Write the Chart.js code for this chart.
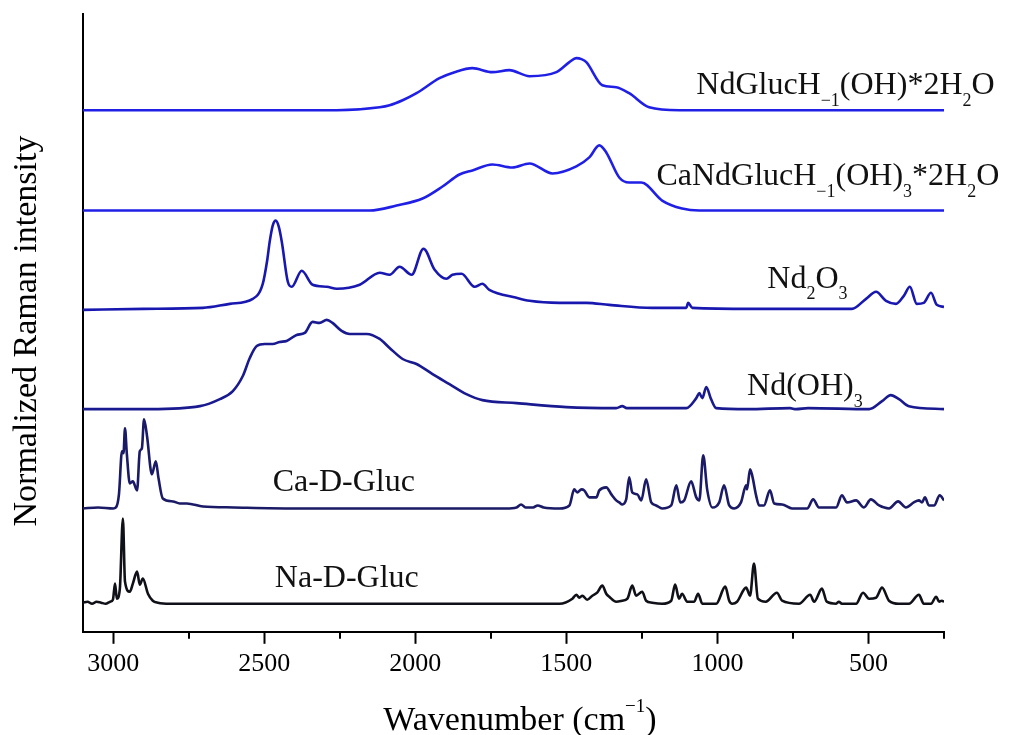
<!DOCTYPE html>
<html>
<head>
<meta charset="utf-8">
<script src="https://cdn.jsdelivr.net/npm/chart.js@4.4.1/dist/chart.umd.min.js"></script>
<style>
html, body { margin: 0; padding: 0; background: #fff; }
#wrap { width: 1010px; height: 735px; position: relative; }
</style>
</head>
<body>
<div id="wrap"><canvas id="chart"></canvas></div>
<script>
// x axis (wavenumber, cm-1), reversed
const xMin = 250;
const xMax = 3100;
const xTicks = [3000, 2500, 2000, 1500, 1000, 500];
const xMinorTicks = [2750, 2250, 1750, 1250, 750, 250];

// spectra, bottom to top: [wavenumber, normalized intensity above own baseline]
const naGluc = [
    [3100, 0.01], [3085, 0.02], [3070, 0.0], [3055, 0.02], [3040, 0.01], [3025, 0.0], [3010, 0.02],
    [3001, 0.04], [2994, 0.20], [2988, 0.05], [2978, 0.15], [2968, 0.85], [2961, 0.22], [2945, 0.12],
    [2935, 0.20], [2921, 0.32], [2912, 0.19], [2902, 0.25], [2885, 0.10], [2869, 0.03], [2852, 0.01],
    [2812, 0.0], [2700, 0.0], [2500, 0.0], [2300, 0.0], [2100, 0.0], [1900, 0.0], [1700, 0.0],
    [1523, 0.0], [1480, 0.05], [1467, 0.09], [1457, 0.06], [1447, 0.08], [1431, 0.04], [1414, 0.08],
    [1398, 0.11], [1381, 0.18], [1368, 0.10], [1358, 0.07], [1335, 0.02], [1315, 0.03], [1298, 0.05],
    [1282, 0.18], [1269, 0.08], [1249, 0.12], [1236, 0.03], [1216, 0.01], [1183, 0.0], [1153, 0.03],
    [1140, 0.19], [1127, 0.05], [1117, 0.10], [1100, 0.02], [1077, 0.02], [1064, 0.10], [1050, 0.0],
    [1004, 0.0], [974, 0.17], [961, 0.03], [951, 0.0], [935, 0.02], [905, 0.16], [892, 0.08],
    [879, 0.40], [866, 0.05], [840, 0.02], [803, 0.11], [786, 0.03], [730, 0.0], [693, 0.09],
    [680, 0.02], [654, 0.15], [638, 0.02], [607, 0.0], [598, 0.02], [588, 0.0], [541, 0.0],
    [518, 0.11], [498, 0.05], [475, 0.06], [455, 0.16], [432, 0.03], [399, 0.0], [366, 0.0],
    [333, 0.09], [317, 0.0], [293, 0.0], [276, 0.07], [266, 0.02], [257, 0.03], [250, 0.02]
];

const caGluc = [
    [3100, 0.0], [3050, 0.01], [3000, 0.0], [2991, 0.01], [2981, 0.14], [2971, 0.57], [2966, 0.55],
    [2961, 0.80], [2955, 0.55], [2945, 0.25], [2935, 0.27], [2921, 0.18], [2912, 0.57], [2905, 0.60],
    [2898, 0.89], [2888, 0.72], [2872, 0.34], [2859, 0.47], [2850, 0.30], [2836, 0.10], [2802, 0.07],
    [2780, 0.05], [2756, 0.05], [2703, 0.02], [2600, 0.01], [2400, 0.0], [2200, 0.0], [2000, 0.0],
    [1800, 0.0], [1700, 0.0], [1665, 0.01], [1650, 0.04], [1635, 0.01], [1610, 0.01], [1595, 0.03],
    [1575, 0.01], [1523, 0.0], [1490, 0.03], [1474, 0.19], [1464, 0.16], [1450, 0.19], [1441, 0.18],
    [1424, 0.11], [1401, 0.11], [1391, 0.18], [1368, 0.21], [1351, 0.14], [1335, 0.08], [1325, 0.06],
    [1315, 0.04], [1302, 0.09], [1292, 0.31], [1282, 0.16], [1265, 0.14], [1252, 0.08], [1236, 0.29],
    [1219, 0.06], [1203, 0.03], [1183, 0.0], [1153, 0.03], [1136, 0.23], [1123, 0.06], [1110, 0.08],
    [1087, 0.27], [1070, 0.11], [1060, 0.08], [1047, 0.53], [1034, 0.19], [1017, 0.01], [994, 0.06],
    [978, 0.23], [961, 0.03], [945, 0.0], [922, 0.06], [905, 0.23], [902, 0.19], [892, 0.39],
    [885, 0.33], [872, 0.13], [862, 0.03], [846, 0.03], [826, 0.18], [812, 0.05], [786, 0.04],
    [753, 0.0], [703, 0.0], [683, 0.09], [664, 0.01], [607, 0.01], [588, 0.13], [571, 0.06],
    [541, 0.08], [515, 0.01], [492, 0.09], [465, 0.03], [432, 0.0], [402, 0.07], [376, 0.01],
    [350, 0.06], [333, 0.08], [323, 0.06], [313, 0.11], [300, 0.03], [283, 0.03], [264, 0.13],
    [250, 0.08]
];

const ndOH = [
    [3100, 0.0], [2950, 0.0], [2878, 0.0], [2713, 0.03], [2647, 0.10], [2604, 0.18], [2571, 0.33],
    [2548, 0.51], [2525, 0.63], [2498, 0.65], [2472, 0.65], [2449, 0.67], [2426, 0.68], [2393, 0.74],
    [2366, 0.76], [2340, 0.87], [2317, 0.86], [2293, 0.89], [2274, 0.86], [2244, 0.78], [2217, 0.75],
    [2161, 0.75], [2118, 0.70], [2085, 0.61], [2042, 0.50], [1996, 0.45], [1943, 0.35], [1887, 0.25],
    [1831, 0.15], [1778, 0.09], [1665, 0.06], [1500, 0.02], [1335, 0.01], [1315, 0.03], [1300, 0.01],
    [1103, 0.01], [1070, 0.11], [1060, 0.16], [1050, 0.11], [1037, 0.22], [1021, 0.10], [1004, 0.01],
    [900, 0.0], [760, 0.01], [740, 0.0], [700, 0.01], [498, 0.0], [455, 0.08], [426, 0.14],
    [399, 0.10], [366, 0.03], [250, 0.0]
];

const nd2o3 = [
    [3100, 0.0], [2900, 0.01], [2703, 0.02], [2614, 0.06], [2538, 0.11], [2505, 0.26], [2490, 0.50],
    [2482, 0.68], [2472, 0.84], [2462, 0.89], [2452, 0.83], [2442, 0.68], [2422, 0.28], [2409, 0.23],
    [2376, 0.39], [2340, 0.25], [2293, 0.23], [2260, 0.21], [2184, 0.25], [2118, 0.37], [2085, 0.35],
    [2052, 0.43], [2012, 0.35], [1973, 0.61], [1936, 0.40], [1897, 0.31], [1877, 0.35], [1847, 0.36],
    [1804, 0.23], [1778, 0.26], [1755, 0.20], [1665, 0.12], [1622, 0.09], [1523, 0.07], [1434, 0.07],
    [1358, 0.05], [1216, 0.02], [1103, 0.02], [1097, 0.07], [1083, 0.02], [885, 0.01], [555, 0.01],
    [508, 0.11], [475, 0.18], [442, 0.09], [409, 0.06], [383, 0.14], [363, 0.23], [340, 0.06],
    [317, 0.07], [293, 0.17], [274, 0.05], [250, 0.03]
];

const caNdGluc = [
    [3100, 0.0], [2200, 0.0], [2151, 0.0], [2062, 0.05], [1976, 0.12], [1910, 0.24], [1854, 0.36],
    [1811, 0.40], [1745, 0.46], [1679, 0.43], [1622, 0.47], [1546, 0.37], [1467, 0.44], [1424, 0.53],
    [1391, 0.65], [1368, 0.58], [1325, 0.33], [1292, 0.28], [1252, 0.28], [1183, 0.10], [1117, 0.02],
    [1060, 0.0], [250, 0.0]
];

const ndGluc = [
    [3100, 0.0], [2260, 0.0], [2118, 0.03], [2085, 0.05], [2042, 0.10], [1996, 0.17], [1920, 0.32],
    [1870, 0.38], [1811, 0.42], [1745, 0.38], [1689, 0.40], [1622, 0.34], [1533, 0.38], [1490, 0.48],
    [1467, 0.52], [1450, 0.51], [1434, 0.48], [1381, 0.25], [1335, 0.23], [1292, 0.17], [1226, 0.03],
    [1126, 0.0], [250, 0.0]
];

const spectra = [naGluc, caGluc, ndOH, nd2o3, caNdGluc, ndGluc];
const spectrumNames = ['Na-D-Gluc', 'Ca-D-Gluc', 'Nd(OH)3', 'Nd2O3', 'CaNdGlucH-1(OH)3*2H2O', 'NdGlucH-1(OH)*2H2O'];
const spectrumOffsets = [0.28, 1.23, 2.22, 3.21, 4.20, 5.20];
const spectrumColors = ['#101018', '#1a1a66', '#191990', '#1818b0', '#1f1fe6', '#1f1fe6'];

// curve labels: pieces with optional sub/superscript, anchored in data units
const curveLabels = [
    { x: 2465, y: 0.45, parts: [['Na-D-Gluc']] },
    { x: 2472, y: 1.40, parts: [['Ca-D-Gluc']] },
    { x: 902, y: 2.36, parts: [['Nd(OH)'], ['3', 'sub']] },
    { x: 835, y: 3.43, parts: [['Nd'], ['2', 'sub'], ['O'], ['3', 'sub']] },
    { x: 1202, y: 4.45, parts: [['CaNdGlucH'], ['\u22121', 'sub'], ['(OH)'], ['3', 'sub'], ['*2H'], ['2', 'sub'], ['O']] },
    { x: 1070, y: 5.36, parts: [['NdGlucH'], ['\u22121', 'sub'], ['(OH)*2H'], ['2', 'sub'], ['O']] }
];

const serif = '"Liberation Serif", "Times New Roman", serif';

function drawParts(ctx, parts, x, y, size, align) {
    const sub = Math.round(size * 0.55);
    const widths = parts.map(([t, kind]) => {
        ctx.font = `${kind ? sub : size}px ${serif}`;
        return ctx.measureText(t).width;
    });
    const total = widths.reduce((a, b) => a + b, 0);
    let cx = align === 'center' ? x - total / 2 : x;
    parts.forEach(([t, kind], i) => {
        ctx.font = `${kind ? sub : size}px ${serif}`;
        let dy = 0;
        if (kind === 'sub') dy = size * 0.36;
        if (kind === 'sup') dy = -size * 0.52;
        ctx.fillText(t, cx, y + dy);
        cx += widths[i];
    });
}

const annotate = {
    id: 'annotate',
    afterDraw(chart) {
        const { ctx, chartArea, scales } = chart;
        const xs = scales.x;
        ctx.save();
        ctx.fillStyle = '#000';
        ctx.strokeStyle = '#000';
        ctx.textBaseline = 'alphabetic';
        ctx.textAlign = 'left';

        // minor ticks
        ctx.lineWidth = 2;
        xMinorTicks.forEach((v) => {
            const px = Math.round(xs.getPixelForValue(v));
            ctx.beginPath();
            ctx.moveTo(px, chartArea.bottom);
            ctx.lineTo(px, chartArea.bottom + 7);
            ctx.stroke();
        });

        // curve labels
        ctx.fillStyle = '#111';
        curveLabels.forEach((l) => {
            drawParts(ctx, l.parts, xs.getPixelForValue(l.x), scales.y.getPixelForValue(l.y), 32, 'left');
        });

        // axis titles
        ctx.fillStyle = '#000';
        drawParts(ctx, [['Wavenumber (cm'], ['\u22121', 'sup'], [')']], 520, 730, 34, 'center');
        ctx.translate(36, 331);
        ctx.rotate(-Math.PI / 2);
        drawParts(ctx, [['Normalized Raman intensity']], 0, 0, 34, 'center');
        ctx.restore();
    }
};

const datasets = spectra.map((s, i) => ({
    label: spectrumNames[i],
    data: s.map(([w, v]) => ({ x: w, y: v + spectrumOffsets[i] })),
    borderColor: spectrumColors[i],
    borderWidth: 2.6,
    pointRadius: 0,
    fill: false,
    cubicInterpolationMode: 'monotone',
}));

new Chart(document.getElementById('chart'), {
    type: 'line',
    data: { datasets },
    options: {
        responsive: true,
        maintainAspectRatio: false,
        animation: false,
        events: [],
        layout: { padding: { left: 75, top: 14, right: 66, bottom: 50 } },
        plugins: { legend: { display: false }, tooltip: { enabled: false } },
        scales: {
            x: {
                type: 'linear',
                reverse: true,
                min: xMin,
                max: xMax,
                afterBuildTicks: (s) => { s.ticks = xTicks.map((v) => ({ value: v })); },
                grid: { display: true, drawOnChartArea: false, drawTicks: true, tickLength: 12, tickColor: '#000', tickWidth: 2 },
                border: { display: true, color: '#000', width: 2 },
                ticks: { color: '#000', padding: 5, maxRotation: 0, font: { family: serif, size: 26 }, callback: (v) => String(v) },
            },
            y: {
                min: 0,
                max: 6.16,
                ticks: { display: false },
                grid: { display: false },
                border: { display: true, color: '#000', width: 2 },
            },
        },
    },
    plugins: [annotate],
});
</script>
</body>
</html>
